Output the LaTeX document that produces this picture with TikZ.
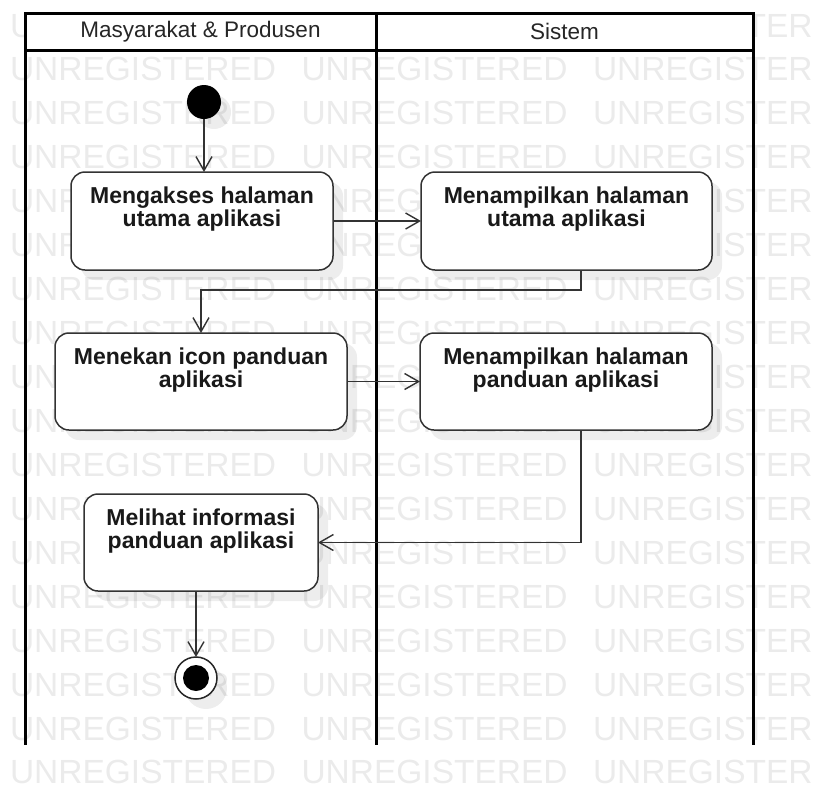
\documentclass[tikz,border=0pt]{standalone}
\usepackage{fontspec}
\setmainfont{Liberation Sans}
\usetikzlibrary{arrows.meta}

% text block of an action: fixed width and height, set from the top
\newcommand\acttxt[3]{\parbox[c][#2][t]{#1}{\centering #3}}

\begin{document}
\begin{tikzpicture}[x=1pt,y=-1pt,
  every node/.style={outer sep=0pt},
  wmark/.style={anchor=base west, inner sep=0pt, text=black!8,
    font=\fontsize{33.5}{36}\selectfont},
  lanehead/.style={draw=black, line width=3pt, fill=white, inner sep=0pt,
    minimum height=37pt, text=black!85, font=\fontsize{22.5}{26}\selectfont},
  laneline/.style={draw=black, line width=3pt},
  shadowed/.style={preaction={fill=black, fill opacity=0.07,
    transform canvas={shift={(10pt,-10pt)}}}},
  action/.style={shadowed, draw=black!80, line width=1.5pt, fill=white,
    rounded corners=14pt, inner xsep=0pt, inner ysep=15pt, text=black!90,
    font=\bfseries\fontsize{23}{23}\selectfont},
  startnode/.style={shadowed, circle, fill=black, inner sep=0pt, minimum size=34pt},
  endring/.style={shadowed, circle, draw=black!85, line width=1.5pt, fill=white,
    inner sep=0pt, minimum size=42pt},
  enddot/.style={circle, fill=black, inner sep=0pt, minimum size=26pt},
  flow/.style={draw=black!80, line width=1.4pt,
    -{Straight Barb[length=14pt,width=16pt,line width=1.4pt]}}
]
\useasboundingbox (0,0) rectangle (820,785);

% background watermark
\begin{scope}
  \clip (0,0) rectangle (820,785);
  \foreach \r in {0,...,17}{
    \foreach \c/\w in {0/UNREGISTERED,1/UNREGISTERED,2/UNREGISTER}{
      \node[wmark] (wm-\r-\c) at ({10+291.5*\c},{37+43.94*\r}) {\w};
    }
  }
\end{scope}

% swimlanes
\node[lanehead, minimum width=351pt] (h1) at (200.5,31.5) {Masyarakat \& Produsen};
\node[lanehead, minimum width=377pt] (h2) at (564.5,31.5) {Sistem};
\draw[laneline] (h1.south west) -- ++(0,695);
\draw[laneline] (h1.south east) -- ++(0,695);
\draw[laneline] (h2.south east) -- ++(0,695);

% start and end
\node[startnode] (start) at (204,102) {};
\node[endring] (endnode) at (196,678) {};
\node[enddot] (enddot) at (endnode.center) {};

% actions
\node[action, anchor=north west] (b1) at (71,172)
  {\acttxt{262pt}{68pt}{Mengakses halaman\\utama aplikasi}};
\node[action, anchor=north west] (b2) at (421,172)
  {\acttxt{291pt}{68pt}{Menampilkan halaman\\utama aplikasi}};
\node[action, anchor=north west] (b3) at (55,333)
  {\acttxt{292pt}{67pt}{Menekan icon panduan\\aplikasi}};
\node[action, anchor=north west] (b4) at (420,333)
  {\acttxt{292pt}{67pt}{Menampilkan halaman\\panduan aplikasi}};
\node[action, anchor=north west] (b5) at (84,494)
  {\acttxt{234pt}{67pt}{Melihat informasi\\panduan aplikasi}};

% control flow
\coordinate (k1) at (581,290);
\coordinate (k2) at (581,542);
\draw[flow] (start) -- (start |- b1.north);
\draw[flow] (b1.east) -- (b2.west);
\draw[flow] (b2.south -| k1) -- (k1) -- (k1 -| b3.north) -- (b3.north);
\draw[flow] (b3.east) -- (b4.west);
\draw[flow] (b4.south -| k2) |- (b5.east);
\draw[flow] (b5.south -| endnode) -- (endnode.north);
\end{tikzpicture}
\end{document}
